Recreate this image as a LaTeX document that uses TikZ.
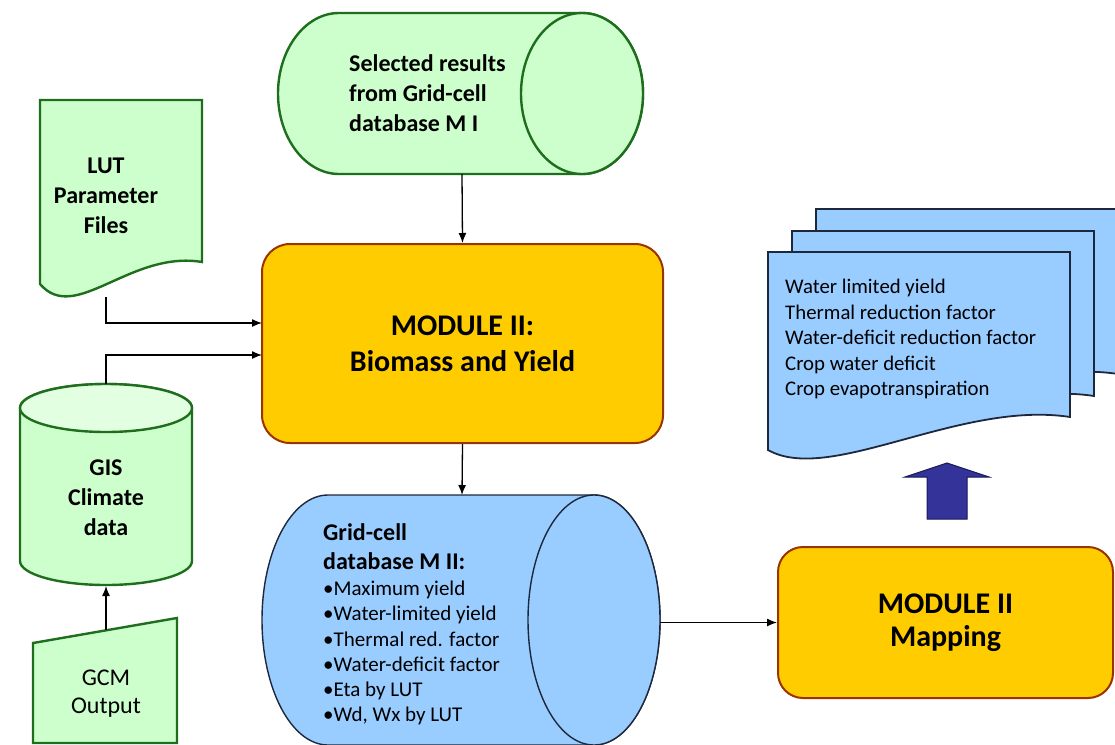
\documentclass[tikz,border=0pt]{standalone}
\usepackage{fontspec}
\setmainfont{Carlito}
\usetikzlibrary{arrows.meta}
\definecolor{lgreen}{HTML}{CCFFCC}
\definecolor{lgreentop}{HTML}{E2FFE2}
\definecolor{dgreen}{RGB}{30,110,30}
\definecolor{modfill}{HTML}{FFCC00}
\definecolor{modline}{RGB}{153,51,0}
\definecolor{lblue}{HTML}{99CCFF}
\definecolor{dblue}{RGB}{30,40,60}
\definecolor{navy}{HTML}{333399}
\definecolor{navyd}{RGB}{25,25,90}
\tikzset{
  greenshape/.style={draw=dgreen, fill=lgreen, line width=2.4pt},
  blueshape/.style={draw=dblue, fill=lblue, line width=1.4pt},
  docst/.style={draw=dblue, fill=lblue, line width=1.8pt},
  modbox/.style={draw=modline, fill=modfill, line width=2pt, rounded corners=28pt,
    inner sep=0pt, align=center, font=\fontsize{30}{36}\selectfont\bfseries},
  boldtxt/.style={inner sep=0pt, font=\fontsize{24}{30}\selectfont\bfseries},
  regtxt/.style={inner sep=0pt, font=\fontsize{24}{28}\selectfont},
  arr/.style={draw=black, line width=1.3pt, -{Latex[length=10pt,width=8pt]}},
}
\newcommand\stackdoc[2]{\path[docst] (#1,-#2) -- ++(302,0) -- ++(0,-165)
  .. controls +(-110,17) and +(62,-35) .. ++(-302,-33) -- cycle;}
\begin{document}
\begin{tikzpicture}[x=1pt,y=1pt]
\useasboundingbox (0,0) rectangle (1115,-744);
\clip (0,0) rectangle (1115,-744);
% top cylinder
\path[greenshape] (339,-13) -- (582,-13) arc[start angle=90,end angle=-90,x radius=61,y radius=80.5]
  -- (339,-174) arc[start angle=270,end angle=90,x radius=61,y radius=80.5] -- cycle;
\path[greenshape] (582,-93.5) ellipse[x radius=61,y radius=80.5];
\node[boldtxt, anchor=west, align=left] (sel) at (349,-93) {Selected results\\from Grid-cell\\database M I};
\coordinate (selB) at (462,-174);
% LUT document
\path[greenshape] (40,-100) -- (202,-100) -- (202,-262) .. controls (130,-250) and (75,-325) .. (40,-284) -- cycle;
\node[boldtxt, align=center] (lut) at (106,-196) {LUT\\Parameter\\Files};
\coordinate (lutB) at (106,-297);
% GIS cylinder
\path[greenshape] (20,-408) -- (20,-561) arc[start angle=180,end angle=360,x radius=86,y radius=24]
  -- (192,-408) arc[start angle=0,end angle=180,x radius=86,y radius=24] -- cycle;
\path[greenshape, fill=lgreentop] (106,-408) ellipse[x radius=86,y radius=24];
\node[boldtxt, align=center] (gis) at (106,-498) {GIS\\Climate\\data};
\coordinate (gisT) at (106,-384);
\coordinate (gisB) at (106,-586);
% GCM manual input
\path[greenshape] (33,-643) -- (177,-618) -- (177,-743) -- (33,-743) -- cycle;
\node[regtxt, align=center] (gcm) at (106,-694) {GCM\\Output};
\coordinate (gcmT) at (106,-630);
% Module II box
\node[modbox, minimum width=401pt, minimum height=199pt] (mod) at (462.5,-343.5) {MODULE II:\\Biomass and Yield};
\coordinate (modin1) at (262,-323);
\coordinate (modin2) at (262,-355);
% bottom cylinder
\path[blueshape] (328,-495) -- (594,-495) arc[start angle=90,end angle=-90,x radius=66,y radius=125]
  -- (328,-745) arc[start angle=270,end angle=90,x radius=66,y radius=125] -- cycle;
\path[blueshape] (594,-620) ellipse[x radius=66,y radius=125];
\coordinate (cylT) at (462,-495);
\node[boldtxt, anchor=west, align=left, font=\fontsize{24}{29}\selectfont\bfseries] (gridh) at (323,-547) {Grid-cell\\database M II:};
\node[inner sep=0pt, anchor=west, align=left, font=\fontsize{21}{25.2}\selectfont] (gridl) at (323,-653)
  {•Maximum yield\\•Water-limited yield\\•Thermal red. factor\\•Water-deficit factor\\•Eta by LUT\\•Wd, Wx by LUT};
\coordinate (cylR) at (660,-622.5);
% Module II mapping
\node[modbox, rounded corners=25pt, minimum width=335pt, minimum height=151pt, font=\fontsize{30}{33}\selectfont\bfseries] (map) at (945.5,-622.5) {MODULE II\\Mapping};
% stacked documents
\stackdoc{816}{209}
\stackdoc{792}{231}
\stackdoc{768}{252}
\node[inner sep=0pt, anchor=west, align=left, font=\fontsize{20.8}{25.5}\selectfont] (out) at (785,-339)
  {Water limited yield\\Thermal reduction factor\\Water-deficit reduction factor\\Crop water deficit\\Crop evapotranspiration};
% block arrow
\path[fill=navy, draw=navyd, line width=1pt] (927,-519) -- (927,-477) -- (905,-477) -- (947,-463)
  -- (989,-477) -- (967,-477) -- (967,-519) -- cycle;
% connectors
\draw[arr] (selB) -- (mod.north);
\draw[arr] (mod.south) -- (cylT);
\draw[arr] (lutB) |- (modin1);
\draw[arr] (gisT) |- (modin2);
\draw[arr] (gcmT) -- (gisB);
\draw[arr] (cylR) -- (map.west);
\end{tikzpicture}
\end{document}
